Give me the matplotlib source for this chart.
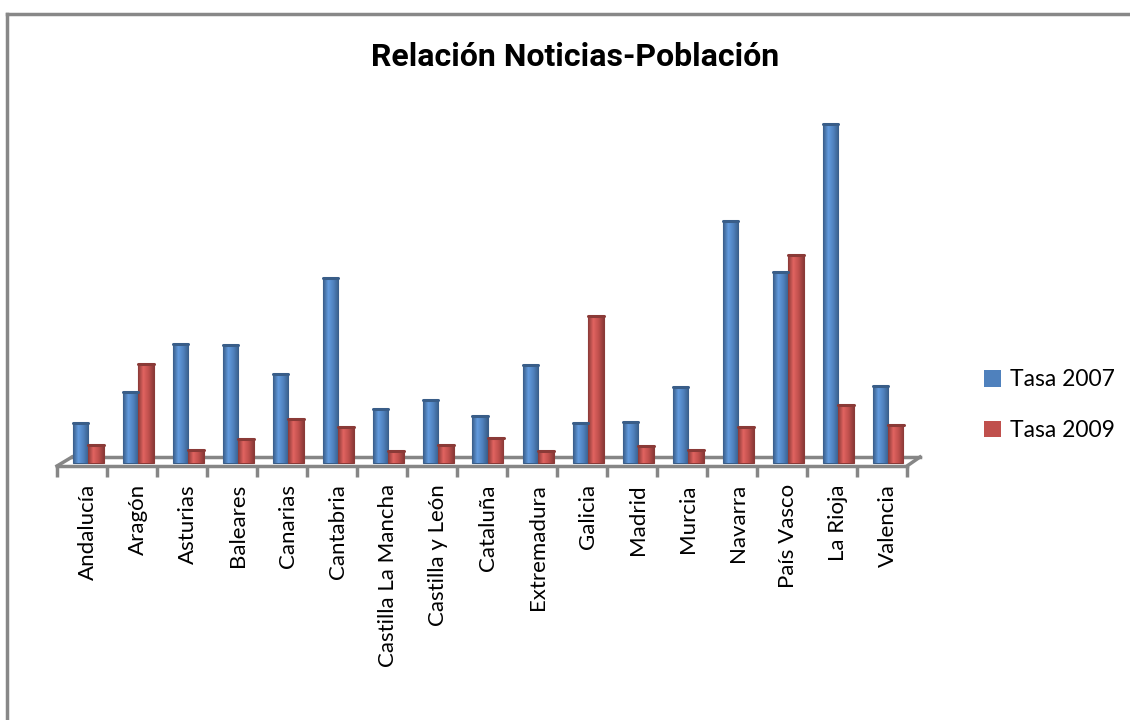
import matplotlib
matplotlib.use('Agg')
import matplotlib.pyplot as plt
import numpy as np
from matplotlib.patches import Patch
from matplotlib.lines import Line2D
from matplotlib.colors import LinearSegmentedColormap

# Datos (unidades relativas)
regiones = ['Andalucía', 'Aragón', 'Asturias', 'Baleares', 'Canarias', 'Cantabria',
            'Castilla La Mancha', 'Castilla y León', 'Cataluña', 'Extremadura',
            'Galicia', 'Madrid', 'Murcia', 'Navarra', 'País Vasco', 'La Rioja', 'Valencia']
tasa_2007 = [4.0, 7.1, 11.9, 11.8, 8.9, 18.5, 5.4, 6.3, 4.7, 9.8,
             4.0, 4.1, 7.6, 24.2, 19.1, 33.9, 7.7]
tasa_2009 = [1.8, 9.9, 1.3, 2.4, 4.4, 3.6, 1.2, 1.8, 2.5, 1.2,
             14.7, 1.7, 1.3, 3.6, 20.8, 5.8, 3.8]
series = ['Tasa 2007', 'Tasa 2009']

azul = '#4F81BD'
rojo = '#C0504D'
gris = '#868686'

W, H = 1130, 720
fig = plt.figure(figsize=(W / 100, H / 100), dpi=100)

# posición de los ejes en píxeles
x0, x1 = 57, 907
y_top, y_bot = 100, 466
ax = fig.add_axes([x0 / W, 1 - y_bot / H, (x1 - x0) / W, (y_bot - y_top) / H])

x = np.arange(len(regiones))
ancho = 0.31
desp = 0.12


def barras_con_sombra(pos, valores, color):
    base = matplotlib.colors.to_rgb(color)
    oscuro = tuple(c * 0.72 for c in base)
    claro = tuple(min(1, c * 1.12 + 0.04) for c in base)
    cmap = LinearSegmentedColormap.from_list('g', [oscuro, claro, base, oscuro])
    grad = np.linspace(0, 1, 64).reshape(1, -1)
    bars = ax.bar(pos, valores, width=ancho, color=color, edgecolor=oscuro,
                  linewidth=0.8, zorder=3)
    for b in bars:
        im = ax.imshow(grad, cmap=cmap, aspect='auto', zorder=3.5,
                       extent=[b.get_x(), b.get_x() + b.get_width(), 0, b.get_height()])
        im.set_clip_path(b)
        # borde superior más oscuro
        ax.plot([b.get_x(), b.get_x() + b.get_width()], [b.get_height()] * 2,
                color=oscuro, lw=2.2, zorder=4, solid_capstyle='round')
    return bars


barras_con_sombra(x + desp - ancho / 2, tasa_2007, azul)
barras_con_sombra(x + desp + ancho / 2, tasa_2009, rojo)
ax.set_xlim(-0.5, len(regiones) - 0.5)
ax.set_ylim(-0.3, 36.3)

# suelo en perspectiva
n = len(regiones)
ax.plot([-0.5, n - 0.5], [-0.3, -0.3], color=gris, lw=2.5, clip_on=False, zorder=2)
ax.plot([-0.2, n - 0.24], [0.6, 0.6], color=gris, lw=2.5, clip_on=False, zorder=2)
ax.plot([-0.5, -0.2], [-0.3, 0.6], color=gris, lw=2.5, clip_on=False, zorder=2)
ax.plot([n - 0.5, n - 0.24], [-0.3, 0.6], color=gris, lw=2.5, clip_on=False, zorder=2)

for s in ax.spines.values():
    s.set_visible(False)
ax.set_yticks([])
ax.set_xticks(np.arange(-0.5, n, 1.0))
ax.set_xticklabels([])
ax.tick_params(axis='x', which='major', length=8, width=2.5, color=gris, direction='out')
ax.set_xticks(x + desp, minor=True)
ax.set_xticklabels(regiones, minor=True, rotation=90, fontsize=16,
                   family=['Lato', 'DejaVu Sans'])
ax.tick_params(axis='x', which='minor', length=0, pad=13)

fig.text(575 / W, 1 - 57 / H, 'Relación Noticias-Población', ha='center', va='center',
         fontsize=23, fontweight='bold',
         family=['Roboto', 'Liberation Sans', 'DejaVu Sans'])

handles = [Patch(facecolor=azul), Patch(facecolor=rojo)]
fig.legend(handles, series, loc='center left', bbox_to_anchor=(984 / W, 1 - 405 / H),
           frameon=False, handlelength=0.75, handleheight=0.75,
           handletextpad=0.4, labelspacing=1.3, borderpad=0, borderaxespad=0,
           prop={'family': 'Lato', 'size': 16.5})

# marco del gráfico
fig.add_artist(Line2D([7 / W, 7 / W], [-0.1, 1 - 14 / H], color='#888888', lw=2.5))
fig.add_artist(Line2D([7 / W, 1.1], [1 - 14 / H, 1 - 14 / H], color='#888888', lw=2.5))

fig.savefig('out.png', dpi=100)
